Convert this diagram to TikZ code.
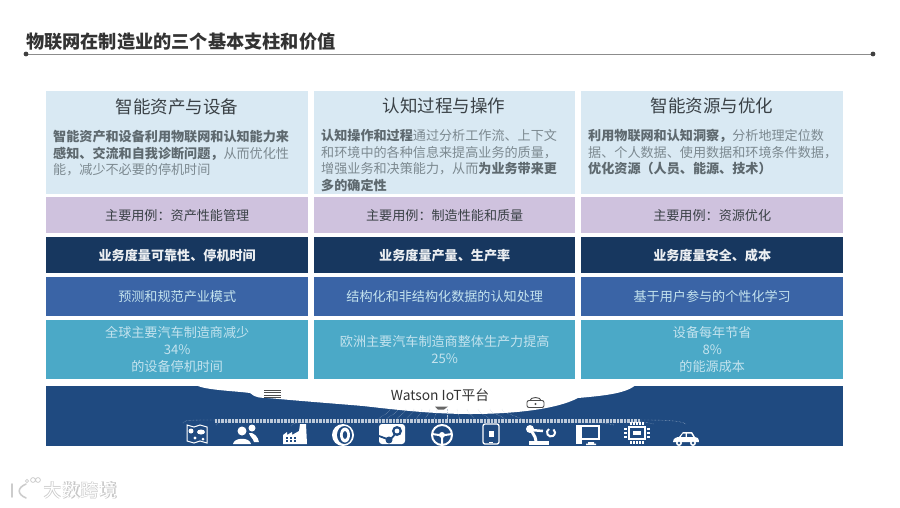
\documentclass[tikz,border=0pt]{standalone}
\usepackage{fontspec}
\setmainfont{Noto Sans CJK SC}
\usetikzlibrary{positioning}
\definecolor{cardsky}{HTML}{D9E9F3}
\definecolor{cardlilac}{HTML}{CFC2DE}
\definecolor{cardnavy}{HTML}{17375F}
\definecolor{cardblue}{HTML}{3A64A6}
\definecolor{cardteal}{HTML}{4BA9C7}
\definecolor{bandblue}{HTML}{1F4A80}
\definecolor{bodygrey}{HTML}{7C8990}
\definecolor{boldgrey}{HTML}{5E696F}
\definecolor{inkgrey}{HTML}{3A4146}
\definecolor{softtext}{HTML}{C4E3EE}
\tikzset{
  card/.style={minimum width=262pt,inner sep=0pt,anchor=north west},
  headtext/.style={font=\fontsize{17.5}{20}\selectfont,text=inkgrey,anchor=center},
  bodytext/.style={font=\fontsize{13.1}{16.7}\selectfont,text=bodygrey,anchor=north west,align=left,inner sep=0pt},
  icon/.style={white,line width=1.3pt},
  fanline/.style={white!70!bandblue,line width=.4pt,densely dotted},
}
\newcommand{\bt}[1]{{\color{boldgrey}\bfseries #1}}

\begin{document}
\begin{tikzpicture}[x=1pt,y=-1pt]
    \path[use as bounding box] (0,0) rectangle (900,507);

    % Title with its rule and end dots.
    \node (title) [anchor=west,inner sep=0pt,font=\fontsize{18.2}{22}\selectfont\bfseries,text=black!80] at (26,42)
      {物联网在制造业的三个基本支柱和价值};
    \coordinate (ruleL) at (26,54);
    \coordinate (ruleR) at (873,54);
    \draw[black!45,line width=.8pt] (ruleL) -- (ruleR);
    \fill[black!75] (ruleL) circle (2.4pt);
    \fill[black!75] (ruleR) circle (2.4pt);

    % The five rows of each of the three columns.
    \foreach \col/\x/\w/\usecase/\metric/\model/\resA/\resB/\resC in {
      a/46/262/资产性能管理/可靠性、停机时间/预测和规范产业模式/全球主要汽车制造商减少/34\%/的设备停机时间,
      b/314/261/制造性能和质量/产量、生产率/结构化和非结构化数据的认知处理//欧洲主要汽车制造商整体生产力提高/25\%,
      c/581/262/资源优化/安全、成本/基于用户参与的个性化学习/设备每年节省/8\%/的能源成本}
    {
      \node (head\col) [card,minimum width=\w pt,minimum height=103pt,fill=cardsky] at (\x,91) {};
      \node (use\col) [card,minimum width=\w pt,minimum height=36pt,fill=cardlilac,
        font=\fontsize{13.1}{16}\selectfont,text=inkgrey] at (\x,197) {主要用例：\usecase};
      \node (metric\col) [card,minimum width=\w pt,minimum height=36pt,fill=cardnavy,
        font=\fontsize{13.1}{16}\selectfont\bfseries,text=white!92!cardnavy] at (\x,237) {业务度量\metric};
      \node (model\col) [card,minimum width=\w pt,minimum height=39pt,fill=cardblue,
        font=\fontsize{13.1}{16}\selectfont,text=softtext] at (\x,277) {\model};
      \node (res\col) [card,minimum width=\w pt,minimum height=59pt,fill=cardteal,align=center,
        font=\fontsize{13.1}{17}\selectfont,text=softtext] at (\x,320)
        {\ifx\resA\empty\else\resA\\\fi \resB\\ \resC};
    }

    % Column headings and descriptions.
    \node[headtext] at (177,107) {智能资产与设备};
    \node[headtext] at (444,106) {认知过程与操作};
    \node[headtext] at (712,106) {智能资源与优化};
    \node[bodytext] at (53,130) {\bt{智能资产和设备利用物联网和认知能力来}\\
      \bt{感知、交流和自我诊断问题，}从而优化性\\能，减少不必要的停机时间};
    \node[bodytext] at (321,129) {\bt{认知操作和过程}通过分析工作流、上下文\\
      和环境中的各种信息来提高业务的质量，\\
      增强业务和决策能力，从而\bt{为业务带来更}\\\bt{多的确定性}};
    \node[bodytext] at (588,129) {\bt{利用物联网和认知洞察，}分析地理定位数\\
      据、个人数据、使用数据和环境条件数据，\\\bt{优化资源（人员、能源、技术）}};

    % Platform band with the white bay cut into its top edge.
    \fill[bandblue] (46,386) rectangle (843,446);
    \fill[white] (197,385.5) .. controls (205,390) and (235,391) .. (250,393)
      .. controls (255,398) and (262,398) .. (268,398)
      .. controls (300,401) and (340,404) .. (363,406)
      .. controls (390,409) and (430,414) .. (470,414)
      .. controls (510,414) and (555,410) .. (578,398)
      .. controls (600,396) and (625,394) .. (635,385.5) -- cycle;
    \node (watson) [inner sep=0pt,font=\fontsize{13.8}{16}\selectfont,text=black!80] at (440,395) {Watson IoT平台};

    % Small database and lock glyphs in the bay.
    \foreach \y in {390.6,392.8,395,397.2}
      \draw[black!70,line width=.9pt] (264,\y) -- (281,\y);
    \draw[black!70,line width=.9pt,rounded corners=2pt] (527,400.5) rectangle (544,407.5);
    \draw[black!70,line width=.9pt] (530,400.5) arc (180:360:5.5pt and -3pt);
    \fill[black!70] (535.5,404) circle (1.2pt);
    \fill[black!60] (435,406.5) -- (448,406.5) -- (444,409.5) -- (438,409.5) -- cycle;

    % Dotted signal lines run from the bay to the icons.
    \foreach \y in {419.6,420.6,421.6,422.6}
      \draw[fanline] (215,\y) -- (640,\y);
    \draw[fanline] (183,423) .. controls (184,420) and (190,420) .. (215,420);
    \draw[fanline] (216,425) .. controls (217,422) and (223,421) .. (240,421);
    \draw[fanline] (291,426) .. controls (292,423) and (298,422) .. (315,422);
    \draw[fanline] (640,420) .. controls (660,420) and (680,420) .. (686,424);
    \draw[fanline] (600,421) .. controls (640,421) .. (654,424);
    \draw[fanline] (570,422) .. controls (600,422) .. (614,425);
    \foreach \xa/\xb in {390/378,398/386,406/396,414/406,422/416,430/425,437/434,447/447,457/460,467/475,478/490,490/506,502/522}
      \draw[fanline] (\xa,409) .. controls (\xa,414) and (\xb,416) .. (\xb,421);

    % Row of equipment icons.
    \begin{scope}[shift={(197,434)}]
      \draw[icon,line width=1pt] (-10,-9) -- (-3,-7) -- (3,-9) -- (10,-7) -- (10,9) -- (3,7) -- (-3,9) -- (-10,7) -- cycle;
      \fill[white] (-6,-3) circle (2.5pt) (4,-2) ellipse (4pt and 2.5pt) (-2,4) circle (1.7pt) (6,5) circle (1.5pt);
    \end{scope}
    \begin{scope}[shift={(246,434)}]
      \fill[white] (-4,-3) circle (4.5pt) (6,-6) circle (3.5pt);
      \fill[white] (-13,10) .. controls (-12,3) and (4,3) .. (5,10) -- cycle;
      \fill[white] (3,-1) .. controls (8,-2) and (12,3) .. (13,8) -- (8,8) .. controls (7,4) and (4,3) .. (3,-1);
    \end{scope}
    \begin{scope}[shift={(295,434)}]
      \fill[white] (-12,10) -- (-12,1) -- (-8,-2) -- (-8,1) -- (-3,-2) -- (-3,1) -- (4,-3)
        -- (5,-10) -- (11,-10) -- (12,10) -- cycle;
      \foreach \x in {-9,-5,-1} \foreach \y in {3,6}
        \fill[bandblue] (\x,\y) rectangle ++(2.2,2);
    \end{scope}
    \begin{scope}[shift={(343,435)}]
      \fill[white] (0,0) circle (11pt);
      \fill[bandblue] (1.5,0) ellipse (7.5pt and 9pt);
      \fill[white] (2,0) ellipse (5pt and 7.5pt);
      \fill[bandblue] (2,0) ellipse (2.2pt and 4pt);
    \end{scope}
    \begin{scope}[shift={(392,434)}]
      \fill[white,rounded corners=3pt] (-13,-10) rectangle (13,10);
      \draw[bandblue,line width=1.8pt] (-13,2) -- (-2,6) -- (5,-2);
      \fill[bandblue] (5,-3) circle (5pt) (-3,6) circle (3.5pt);
      \fill[white] (5,-3) circle (2.4pt);
    \end{scope}
    \begin{scope}[shift={(442,435)}]
      \draw[icon,line width=2pt] (0,0) circle (10pt);
      \draw[icon,line width=2pt] (-10,-1) -- (-3,0) -- (3,0) -- (10,-1) (0,1) -- (0,9);
      \fill[white] (0,0) circle (3pt);
    \end{scope}
    \begin{scope}[shift={(491,434)}]
      \draw[icon,rounded corners=2pt] (-8,-10) rectangle (8,10);
      \fill[white] (-2.5,-3) rectangle (2.5,3);
      \fill[white] (-2,7.5) rectangle (2,8.5);
    \end{scope}
    \begin{scope}[shift={(540,434)}]
      \fill[white] (-11,7) rectangle (9,11);
      \draw[icon,line width=3pt] (-4,7) -- (-5,3) -- (-9,-4);
      \draw[icon,line width=2.5pt] (-9,-4) -- (3,-3);
      \fill[white] (-10,-5) circle (4pt);
      \draw[icon,line width=2pt] (9,-5) arc (-60:230:-4pt);
    \end{scope}
    \begin{scope}[shift={(588,434)}]
      \fill[white] (-12,-9) rectangle (-6,10);
      \draw[icon] (-6,-8) -- (11,-8) -- (11,5) -- (-6,5);
      \fill[white] (0,8) rectangle (6,9.5) (-2,9.5) rectangle (8,11);
    \end{scope}
    \begin{scope}[shift={(637,433)}]
      \draw[icon,line width=2.6pt] (-8,-6) rectangle (8,6);
      \fill[white] (-4,-2) rectangle (4,2);
      \foreach \t in {-6,-3,0,3,6} {
        \fill[white] (\t-.8,-11) rectangle (\t+.8,-8);
        \fill[white] (\t-.8,8) rectangle (\t+.8,11);
      }
      \foreach \t in {-4,0,4} {
        \fill[white] (-13,\t-.8) rectangle (-10,\t+.8);
        \fill[white] (10,\t-.8) rectangle (13,\t+.8);
      }
    \end{scope}
    \begin{scope}[shift={(686,438)}]
      \fill[white] (-13,4) .. controls (-13,0) and (-9,-1) .. (-7,-1) -- (-3,-6) -- (6,-6) -- (9,-1)
        .. controls (11,-1) and (13,0) .. (13,4) -- cycle;
      \fill[bandblue] (-3,-4.5) -- (-.5,-4.5) -- (-.5,-1.2) -- (-5,-1.2) -- cycle (1,-4.5) -- (5,-4.5) -- (7,-1.2) -- (1,-1.2) -- cycle;
      \fill[white] (-7,5) circle (3pt) (7,5) circle (3pt);
      \fill[bandblue] (-7,5) circle (1.4pt) (7,5) circle (1.4pt);
    \end{scope}

    % Faint watermark at the lower left.
    \node (markshade) [inner sep=0pt,anchor=west,font=\fontsize{18.5}{22}\selectfont\bfseries,text=black!22] at (43.5,490.5) {大数跨境};
    \node (mark) [inner sep=0pt,anchor=west,font=\fontsize{18.5}{22}\selectfont,text=white] at (43,490) {大数跨境};
    \draw[black!20,line width=1.6pt,line cap=round] (12,484) -- (12,497)
      (26,484) .. controls (17,488) and (17,494) .. (26,498);
    \draw[black!20,line width=.8pt] (27,481) circle (1.6pt) (33,480) circle (2.4pt) (38,480) circle (2.4pt);
  \end{tikzpicture}
\end{document}
